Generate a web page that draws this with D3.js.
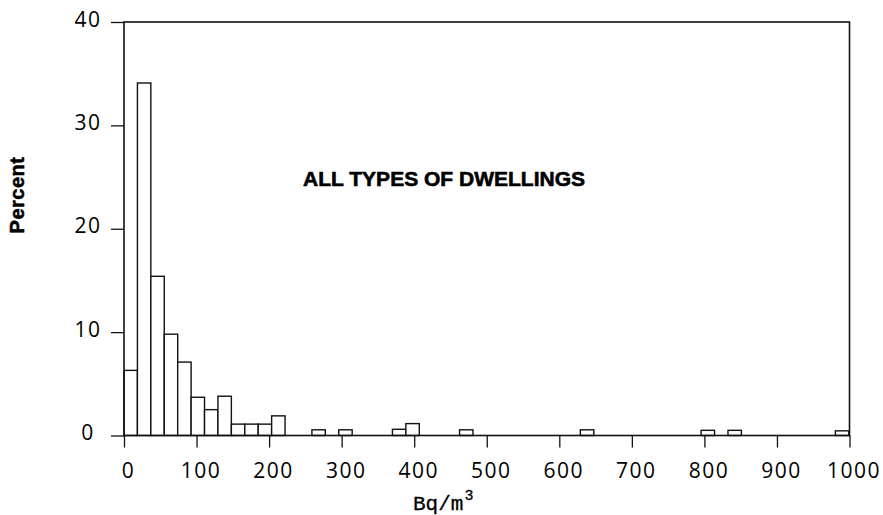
<!DOCTYPE html>
<html>
<head>
<meta charset="utf-8">
<script src="https://cdn.jsdelivr.net/npm/d3@7.9.0/dist/d3.min.js"></script>
<style>
  html, body { margin: 0; padding: 0; background: #fff; }
  svg { display: block; }
  .axis text { font-family: "Open Sans", sans-serif; font-size: 21px; fill: #000; letter-spacing: 1.5px; }
  .axis line { stroke: #111; stroke-width: 1.3px; }
  .axis path { display: none; }
</style>
</head>
<body>
<svg id="chart" width="883" height="515"></svg>
<script>
/*
 * -----------------------------------------------------
 * 0. Data
 * -----------------------------------------------------
 * Bins are 0.5 pCi/L wide = 18.5 Bq/m3.
 * binStarts = lower edge of each non-empty bin, Bq/m3
 * percents  = share of dwellings in that bin
 */
const binWidth = 18.5;
const binStarts = [0, 18.5, 37, 55.5, 74, 92.5, 111, 129.5, 148, 166.5, 185, 203.5,
  259, 296, 370, 388.5, 462.5, 629, 795.5, 832.5, 980.5];
const percents = [6.3, 34.1, 15.4, 9.8, 7.1, 3.7, 2.5, 3.8, 1.1, 1.1, 1.1, 1.9,
  0.55, 0.55, 0.6, 1.15, 0.55, 0.55, 0.5, 0.5, 0.45];

const xTicks = [0, 100, 200, 300, 400, 500, 600, 700, 800, 900, 1000];
const yTicks = [0, 10, 20, 30, 40];

const titleText = 'ALL TYPES OF DWELLINGS';
const yLabel = 'Percent';

/*
 * -----------------------------------------------------
 * 1. Scales
 * -----------------------------------------------------
 */
const svg = d3.select('#chart');

const x = d3.scaleLinear().domain([0, 1000]).range([124, 849.5]);
const y = d3.scaleLinear().domain([0, 40]).range([435.5, 22]);

const bins = binStarts.map((start, i) => ({ start, value: percents[i] }));

/*
 * -----------------------------------------------------
 * 2. Bars (open rectangles)
 * -----------------------------------------------------
 */
svg.append('g')
  .selectAll('rect')
  .data(bins)
  .enter()
  .append('rect')
  .attr('x', d => x(d.start))
  .attr('y', d => y(d.value))
  .attr('width', d => x(d.start + binWidth) - x(d.start))
  .attr('height', d => y(0) - y(d.value))
  .attr('fill', '#fff')
  .attr('stroke', '#111')
  .attr('stroke-width', 1.4);

// frame round the plot
svg.append('rect')
  .attr('x', x(0))
  .attr('y', y(40))
  .attr('width', x(1000) - x(0))
  .attr('height', y(0) - y(40))
  .attr('fill', 'none')
  .attr('stroke', '#111')
  .attr('stroke-width', 1.6);

/*
 * -----------------------------------------------------
 * 3. Axes
 * -----------------------------------------------------
 */
const yAxis = svg.append('g')
  .attr('class', 'axis')
  .attr('transform', `translate(${x(0)},0)`)
  .call(d3.axisLeft(y).tickValues(yTicks).tickSize(13).tickFormat(d3.format('d')));

yAxis.selectAll('text')
  .attr('x', -36)
  .attr('dy', '0.2em')
  .attr('text-anchor', 'middle');

const xAxis = svg.append('g')
  .attr('class', 'axis')
  .attr('transform', `translate(0,${y(0)})`)
  .call(d3.axisBottom(x).tickValues(xTicks).tickSize(12).tickFormat(d3.format('d')));

xAxis.selectAll('text')
  .attr('y', 35)
  .attr('dy', '0.36em')
  .attr('dx', 4);

/*
 * -----------------------------------------------------
 * 4. Labels
 * -----------------------------------------------------
 */
svg.append('text')
  .attr('transform', 'translate(17,195) rotate(-90)')
  .attr('text-anchor', 'middle')
  .attr('dy', '0.35em')
  .style('font-family', '"Liberation Sans", Arial, sans-serif')
  .style('font-weight', 'bold')
  .style('font-size', '20px')
  .style('letter-spacing', '0.5px')
  .attr('fill', '#000')
  .attr('stroke', '#000')
  .attr('stroke-width', 0.5)
  .text(yLabel);

const unit = svg.append('text')
  .attr('x', 413)
  .attr('y', 510)
  .style('font-family', '"Liberation Mono", monospace')
  .style('font-size', '21px')
  .attr('fill', '#000')
  .attr('stroke', '#000')
  .attr('stroke-width', 0.3);
unit.append('tspan').text('Bq/m');
unit.append('tspan')
  .attr('dy', -10)
  .attr('dx', 1)
  .style('font-size', '15px')
  .text('3');

svg.append('text')
  .attr('x', 303)
  .attr('y', 186)
  .attr('textLength', 282)
  .attr('lengthAdjust', 'spacing')
  .style('font-family', '"Liberation Sans", Arial, sans-serif')
  .style('font-weight', 'bold')
  .style('font-size', '21px')
  .attr('fill', '#000')
  .attr('stroke', '#000')
  .attr('stroke-width', 0.6)
  .text(titleText);
</script>
</body>
</html>
